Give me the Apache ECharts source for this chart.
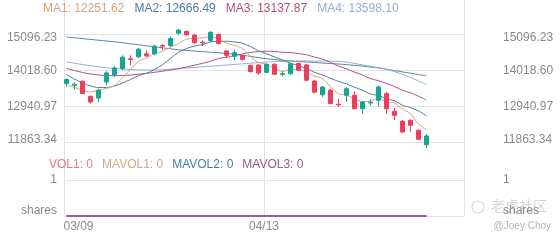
<!DOCTYPE html>
<html><head><meta charset="utf-8">
<script src="https://cdn.jsdelivr.net/npm/echarts/dist/echarts.min.js"></script>
<style>html,body{margin:0;padding:0;background:#fff}#c{width:560px;height:240px}</style>
</head><body><div id="c"></div><script>
const dates = ['03/09','03/10','03/11','03/14','03/15','03/16','03/17','03/18','03/21','03/22','03/23','03/24','03/25','03/28','03/29','03/30','03/31','04/01','04/04','04/05','04/06','04/07','04/08','04/11','04/12','04/13','04/14','04/18','04/19','04/20','04/21','04/22','04/25','04/26','04/27','04/28','04/29','05/02','05/03','05/04','05/05','05/06','05/09','05/10','05/11','05/12','05/13','05/16','05/17','05/18','05/19'];
// [open, close, low, high]
const candles = [
[13630,13750,13530,13790],[13580,13610,13450,13660],[13700,13330,13310,13720],[13250,13080,13030,13270],
[13200,13430,13080,13480],[13680,13950,13580,14000],[13900,14100,13830,14160],[14080,14420,14030,14480],
[14370,14350,14180,14480],[14430,14660,14390,14700],[14520,14455,14440,14630],[14520,14750,14480,14790],
[14770,14750,14630,14820],[14770,14980,14730,15040],[15140,15230,15090,15270],[15190,15090,15060,15230],
[15080,14855,14820,15110],[14870,14850,14755,14925],[14920,15165,14875,15195],[15100,14830,14795,15130],
[14605,14475,14395,14630],[14445,14555,14330,14630],[14470,14355,14315,14495],[14170,13990,13960,14200],
[14185,13945,13900,14210],[13965,14205,13940,14240],[14210,13910,13890,14235],[13905,13925,13850,14000],
[13922,14222,13895,14245],[14230,14030,14010,14260],[14186,13731,13700,14215],[13705,13372,13340,13735],
[13294,13527,13228,13555],[13432,13034,13005,13460],[13010,12990,12930,13177],[13279,13477,13080,13527],
[13279,12878,12860,13399],[12878,13078,12730,13100],[13050,13065,12980,13160],[13130,13527,12930,13578],
[13327,12878,12730,13387],[12800,12680,12533,12899],[12500,12180,12150,12540],[12530,12381,12180,12560],
[12231,11962,11935,12260],[11800,12061,11700,12120]];
const ma1 = [13587,13513,13438,13378,13440,13480,13578,13796,14050,14296,14397,14527,14593,14719,14833,14960,14981,15001,15038,14958,14835,14775,14676,14441,14264,14210,14081,13995,14041,14058,13964,13856,13776,13539,13331,13280,13181,13091,13098,13205,13085,13046,12866,12729,12416,12251.62];
const ma2 = [13902,13767,13647,13558,13513,13513,13558,13647,13752,13868,13938,14052,14194,14384,14564,14678,14754,14797,14878,14895,14897,14878,14838,14739,14611,14522,14428,14335,14241,14161,14087,13968,13886,13790,13695,13622,13519,13434,13318,13268,13183,13113,12979,12913,12811,12666.49];
const ma3 = [14081,14022,13962,13917,13887,13872,13866,13872,13887,13911,13938,13968,14001,14037,14078,14126,14180,14237,14297,14382,14418,14465,14517,14562,14588,14600,14591,14566,14560,14528,14492,14423,14362,14265,14153,14072,13973,13885,13780,13715,13635,13541,13432,13352,13253,13137.87];
const ma4 = [14276,14237,14201,14165,14132,14105,14084,14066,14051,14042,14036,14036,14045,14060,14078,14096,14114,14132,14150,14168,14186,14204,14222,14240,14258,14276,14288,14294,14300,14308,14308,14300,14306,14305,14290,14274,14234,14189,14146,14108,14056,13987,13901,13814,13705,13598.10];
const ma5 = [15024,15001,14975,14953,14928,14906,14880,14852,14820,14792,14760,14733,14700,14672,14640,14624,14604,14588,14568,14552,14532,14511,14478,14445,14406,14373,14347,14328,14308,14292,14276,14262,14245,14232,14215,14199,14176,14154,14125,14097,14057,14020,13979,13942,13901,13863];
const vol = [0,0,0,0,0,0,0,0,0,0,0,0,0,0,0,0,0,0,0,0,0,0,0,0,0,0,0,0,0,0,0,0,0,0,0,0,0,0,0,0,0,0,0,0,0,0];
const mavol1 = [0,0,0,0,0,0,0,0,0,0,0,0,0,0,0,0,0,0,0,0,0,0,0,0,0,0,0,0,0,0,0,0,0,0,0,0,0,0,0,0,0,0,0,0,0,0];
const mavol2 = [0,0,0,0,0,0,0,0,0,0,0,0,0,0,0,0,0,0,0,0,0,0,0,0,0,0,0,0,0,0,0,0,0,0,0,0,0,0,0,0,0,0,0,0,0,0];
const mavol3 = [0,0,0,0,0,0,0,0,0,0,0,0,0,0,0,0,0,0,0,0,0,0,0,0,0,0,0,0,0,0,0,0,0,0,0,0,0,0,0,0,0,0,0,0,0,0];
const priceTicks = [11863.34, 12940.97, 14018.60, 15096.23];
const volTicks = ['shares', '1'];
const shownDates = ['03/09', '04/13'];

const FONT = 'Liberation Sans, Arial, sans-serif';
const LBL = '#8a8a8a';
const GRID = '#e3e3e3';
const maColors = ['#d5a47d', '#4d7c9c', '#b0507e', '#97acd8', '#55849f'];
const volColors = ['#f07587', '#d3aa86', '#3f7ea6', '#9a5690'];
const UP = '#13a595', DOWN = '#ee3e5e';

const last = a => a[a.length - 1];
const fmt = v => Number(v).toFixed(2);

function priceLabel(v) {
  const i = Math.round(v);
  const s = priceTicks[i].toFixed(2);
  if (i === priceTicks.length - 1) return '{t|' + s + '}';
  if (i === 0) return '{b|' + s + '}';
  return s;
}
function volLabel(v) {
  const i = Math.round(v);
  if (i === 0) return '{b|' + volTicks[0] + '}';
  return volTicks[i];
}
const richY = {
  t: { padding: [7, 0, 0, 0], fontSize: 12, color: LBL, fontFamily: FONT },
  b: { padding: [0, 0, 5, 0], fontSize: 12, color: LBL, fontFamily: FONT }
};
const richV = {
  b: { padding: [0, 0, 10, 0], fontSize: 12, color: LBL, fontFamily: FONT }
};

const maTitle = ['MA1','MA2','MA3','MA4'].map((n, k) => '{m' + k + '|' + n + ': ' + fmt(last([ma1, ma2, ma3, ma4][k])) + '}').join('{g| }');
const volTitle = [['VOL1', vol], ['MAVOL1', mavol1], ['MAVOL2', mavol2], ['MAVOL3', mavol3]]
  .map((p, k) => '{v' + k + '|' + p[0] + ': ' + last(p[1]) + '}').join('{g| }');
const maRich = { g: { width: 10, fontWeight: 'normal' } };
[0,1,2,3].forEach(k => { maRich['m' + k] = { color: maColors[k], fontSize: 12, fontWeight: 'normal', fontFamily: FONT }; });
const volRich = { g: { width: 9, fontWeight: 'normal' } };
[0,1,2,3].forEach(k => { volRich['v' + k] = { color: volColors[k], fontSize: 12, fontWeight: 'normal', fontFamily: FONT }; });

const chart = echarts.init(document.getElementById('c'), null, { renderer: 'canvas' });
const hidX = { show: false };
chart.setOption({
  animation: false,
  backgroundColor: '#fff',
  title: [
    { text: maTitle, left: 43, top: 3, padding: 0, textStyle: { rich: maRich, fontSize: 12, fontWeight: 'normal', fontFamily: FONT } },
    { text: volTitle, left: 49, top: 159, padding: 0, textStyle: { rich: volRich, fontSize: 12, fontWeight: 'normal', fontFamily: FONT } }
  ],
  grid: [
    { left: 62.5, right: 97.5, top: 34.6, bottom: 97.4, outerBoundsMode: 'none' },
    { left: 62.5, right: 97.5, top: 180, bottom: 24, outerBoundsMode: 'none' },
    { left: 64, right: 96, top: 0, bottom: 24, outerBoundsMode: 'none' },
    { left: 64, right: 96, top: 34.6, bottom: 97.4, outerBoundsMode: 'none' },
    { left: 64, right: 96, top: 180, bottom: 24, outerBoundsMode: 'none' }
  ],
  xAxis: [
    { type: 'category', gridIndex: 0, data: dates.slice(0, 50), boundaryGap: true, axisLine: hidX, axisTick: hidX, axisLabel: hidX, splitLine: hidX },
    { type: 'category', gridIndex: 1, data: dates.slice(0, 50), boundaryGap: true, axisLine: hidX, axisTick: hidX, axisLabel: hidX, splitLine: hidX },
    { type: 'category', gridIndex: 2, data: dates, boundaryGap: false, axisLine: hidX, axisTick: hidX,
      splitLine: { show: true, interval: (i) => i % 25 === 0, lineStyle: { color: GRID, width: 1 } },
      axisLabel: { show: true, interval: (i, v) => shownDates.indexOf(v) >= 0, margin: 5, color: LBL, fontSize: 12, fontFamily: FONT,
        formatter: (v) => v === shownDates[0] ? '{f|' + v + '}' : v,
        rich: { f: { padding: [0, 0, 0, 29], color: LBL, fontSize: 12, fontFamily: FONT } } } },
    { type: 'category', gridIndex: 3, data: dates.slice(0, 50), show: false },
    { type: 'category', gridIndex: 4, data: dates.slice(0, 50), show: false }
  ],
  yAxis: [
    { type: 'value', gridIndex: 0, min: priceTicks[0], max: last(priceTicks), show: false },
    { type: 'value', gridIndex: 1, min: 0, max: 1, show: false },
    { type: 'value', gridIndex: 2, min: 0, max: 1, show: false },
    { type: 'value', gridIndex: 3, position: 'left', min: 0, max: priceTicks.length - 1, interval: 1,
      axisLine: { show: false }, axisTick: { show: false },
      splitLine: { show: true, lineStyle: { color: GRID, width: 1 } },
      axisLabel: { margin: 7, color: LBL, fontSize: 12, fontFamily: FONT, formatter: priceLabel, rich: richY } },
    { type: 'value', gridIndex: 3, position: 'right', min: 0, max: priceTicks.length - 1, interval: 1,
      axisLine: { show: false }, axisTick: { show: false }, splitLine: { show: false },
      axisLabel: { margin: 39, align: 'left', color: LBL, fontSize: 12, fontFamily: FONT, formatter: priceLabel, rich: richY } },
    { type: 'value', gridIndex: 4, position: 'left', min: 0, max: 1, interval: 1,
      axisLine: { show: false }, axisTick: { show: false },
      splitLine: { show: true, lineStyle: { color: GRID, width: 1 } },
      axisLabel: { margin: 7, color: LBL, fontSize: 12, fontFamily: FONT, formatter: volLabel, rich: richV } },
    { type: 'value', gridIndex: 4, position: 'right', min: 0, max: 1, interval: 1,
      axisLine: { show: false }, axisTick: { show: false }, splitLine: { show: false },
      axisLabel: { margin: 39, align: 'left', color: LBL, fontSize: 12, fontFamily: FONT, formatter: volLabel, rich: richV } }
  ],
  graphic: [
    { type: 'circle', shape: { cx: 478, cy: 207, r: 6 }, style: { fill: 'none', stroke: '#dadada', lineWidth: 1.2 }, z: 0 },
    { type: 'text', left: 491, top: 199, z: 0, style: { text: '老虎社区', fontSize: 14, fontFamily: 'Noto Sans CJK SC', fill: '#d6d6d6' } },
    { type: 'text', right: 9, top: 221, z: 0, style: { text: '@Joey Choy', fontSize: 10, fontFamily: FONT, fill: '#b5b5b5' } }
  ],
  series: [
    ...[ma5, ma4, ma3, ma2, ma1].map((d, k) => ({
      type: 'line', xAxisIndex: 0, yAxisIndex: 0, data: d, symbol: 'none', smooth: 0.3, clip: false,
      lineStyle: { width: 1, color: [maColors[4], maColors[3], maColors[2], maColors[1], maColors[0]][k] }, z: 2
    })),
    { type: 'candlestick', xAxisIndex: 0, yAxisIndex: 0, data: candles, barWidth: 5, clip: false, z: 3,
      itemStyle: { color: UP, color0: DOWN, borderColor: UP, borderColor0: DOWN, borderWidth: 1 } },
    { type: 'bar', xAxisIndex: 1, yAxisIndex: 1, data: vol, barWidth: 5, itemStyle: { color: volColors[0] } },
    ...[mavol1, mavol2, mavol3].map((d, k) => ({
      type: 'line', xAxisIndex: 1, yAxisIndex: 1, data: d, symbol: 'none', clip: false,
      lineStyle: { width: 1.6, color: volColors[k + 1] }, z: 3
    }))
  ]
});
</script></body></html>
